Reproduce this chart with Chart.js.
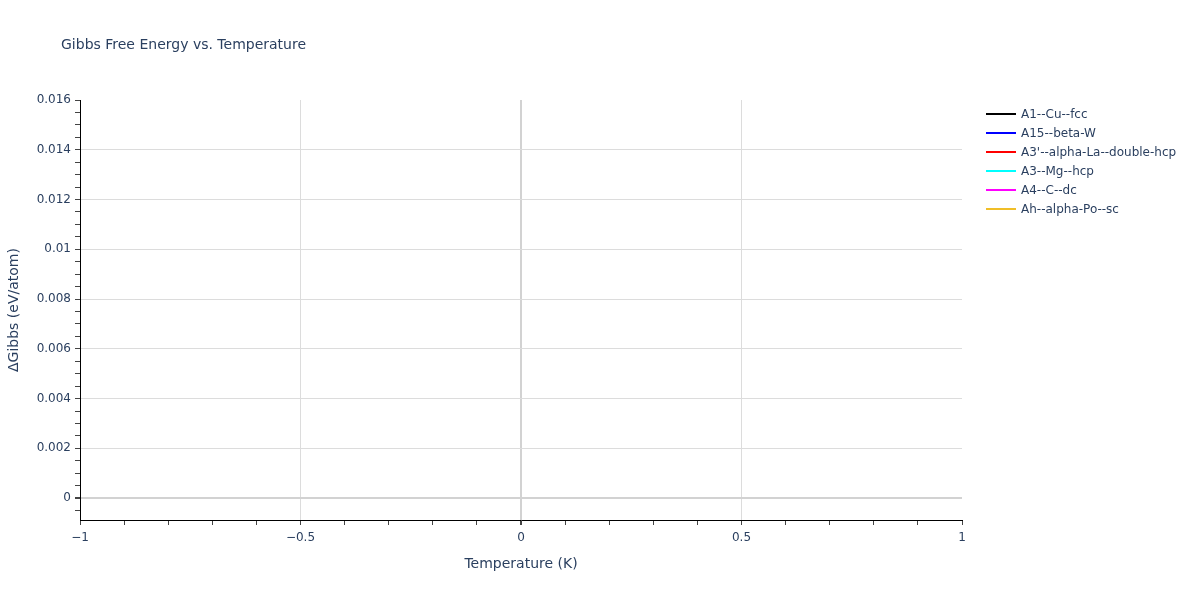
<!DOCTYPE html>
<html>
<head>
<meta charset="utf-8">
<script src="https://cdn.jsdelivr.net/npm/chart.js@4"></script>
<style>
  html, body { margin: 0; padding: 0; background: #fff; }
  #wrap { width: 1200px; height: 600px; }
</style>
</head>
<body>
<div id="wrap"><canvas id="chart" width="1200" height="600"></canvas></div>
<script>
const seriesNames = ['A1--Cu--fcc', 'A15--beta-W', "A3'--alpha-La--double-hcp", 'A3--Mg--hcp', 'A4--C--dc', 'Ah--alpha-Po--sc'];
const seriesColors = ['#000000', '#0000ff', '#ff0000', '#00ffff', '#ff00ff', '#f0be28'];
// each phase only has the reference point at T = 0
const temperatures = [0];
const deltaGibbs = [[0], [0], [0], [0], [0], [0]];

const xTicks = [-1, -0.9, -0.8, -0.7, -0.6, -0.5, -0.4, -0.3, -0.2, -0.1, 0, 0.1, 0.2, 0.3, 0.4, 0.5, 0.6, 0.7, 0.8, 0.9, 1];
const xLabels = { '-1': '\u22121', '-0.5': '\u22120.5', '0': '0', '0.5': '0.5', '1': '1' };
const yTicks = [-0.0005, 0, 0.0005, 0.001, 0.0015, 0.002, 0.0025, 0.003, 0.0035, 0.004, 0.0045, 0.005, 0.0055, 0.006, 0.0065, 0.007, 0.0075, 0.008, 0.0085, 0.009, 0.0095, 0.01, 0.0105, 0.011, 0.0115, 0.012, 0.0125, 0.013, 0.0135, 0.014, 0.0145, 0.015, 0.0155, 0.016];
const yLabels = { '0': '0', '0.002': '0.002', '0.004': '0.004', '0.006': '0.006', '0.008': '0.008', '0.01': '0.01', '0.012': '0.012', '0.014': '0.014', '0.016': '0.016' };

const FONT = '"DejaVu Sans", Verdana, sans-serif';
const TEXT = '#2a3f5f';

const datasets = seriesNames.map((name, i) => ({
  label: name,
  data: temperatures.map((t, j) => ({ x: t, y: deltaGibbs[i][j] })),
  borderColor: seriesColors[i],
  backgroundColor: seriesColors[i],
  borderWidth: 2,
  pointRadius: 0,
  showLine: true
}));

const key = v => String(Math.round(v * 1e6) / 1e6);

const titleAndLegend = {
  id: 'titleAndLegend',
  afterDraw(chart) {
    const ctx = chart.ctx;
    ctx.save();
    ctx.fillStyle = TEXT;
    ctx.font = '14px ' + FONT;
    ctx.textBaseline = 'middle';
    ctx.textAlign = 'left';
    ctx.fillText('Gibbs Free Energy vs. Temperature', 61, 45);
    ctx.font = '12px ' + FONT;
    chart.data.datasets.forEach((ds, i) => {
      const y = 114 + i * 19;
      ctx.strokeStyle = ds.borderColor;
      ctx.lineWidth = 2;
      ctx.beginPath();
      ctx.moveTo(986, y);
      ctx.lineTo(1016, y);
      ctx.stroke();
      ctx.fillStyle = TEXT;
      ctx.fillText(ds.label, 1021, y + 1);
    });
    ctx.restore();
  }
};

new Chart(document.getElementById('chart'), {
  type: 'scatter',
  data: { datasets },
  options: {
    responsive: false,
    animation: false,
    layout: { padding: { left: 0, right: 238, top: 100, bottom: 0 } },
    plugins: { legend: { display: false }, title: { display: false }, tooltip: { enabled: false } },
    scales: {
      x: {
        type: 'linear',
        min: -1,
        max: 1,
        afterBuildTicks: s => { s.ticks = xTicks.map(v => ({ value: v })); },
        afterFit: s => { s.height = 80; },
        ticks: {
          autoSkip: false,
          maxRotation: 0,
          padding: 6,
          color: TEXT,
          font: { family: FONT, size: 12 },
          callback: v => xLabels[key(v)] || ''
        },
        grid: {
          color: c => {
            const v = key(c.tick.value);
            if (v === '0') return '#d2d2d2';
            if (v === '-0.5' || v === '0.5') return '#dcdcdc';
            return 'rgba(0,0,0,0)';
          },
          lineWidth: c => key(c.tick.value) === '0' ? 2 : 1,
          tickColor: '#444',
          tickLength: 5,
          drawTicks: true
        },
        border: { display: true, color: '#000', width: 1 },
        title: {
          display: true,
          text: 'Temperature (K)',
          color: TEXT,
          font: { family: FONT, size: 14 },
          padding: { top: 0, bottom: 27 }
        }
      },
      y: {
        type: 'linear',
        min: -0.00088,
        max: 0.016,
        afterBuildTicks: s => { s.ticks = yTicks.map(v => ({ value: v })); },
        afterFit: s => { s.width = 80; },
        ticks: {
          autoSkip: false,
          padding: 4,
          color: TEXT,
          font: { family: FONT, size: 12 },
          callback: v => yLabels[key(v)] || ''
        },
        grid: {
          color: c => {
            const v = key(c.tick.value);
            if (v === '0') return '#d2d2d2';
            if (yLabels[v] && v !== '0.016') return '#dcdcdc';
            return 'rgba(0,0,0,0)';
          },
          lineWidth: c => key(c.tick.value) === '0' ? 2 : 1,
          tickColor: '#444',
          tickLength: 5,
          drawTicks: true
        },
        border: { display: true, color: '#000', width: 1 },
        title: {
          display: true,
          text: '\u0394Gibbs (eV/atom)',
          color: TEXT,
          font: { family: FONT, size: 14 },
          padding: { top: 6, bottom: 0 }
        }
      }
    }
  },
  plugins: [titleAndLegend]
});
</script>
</body>
</html>
